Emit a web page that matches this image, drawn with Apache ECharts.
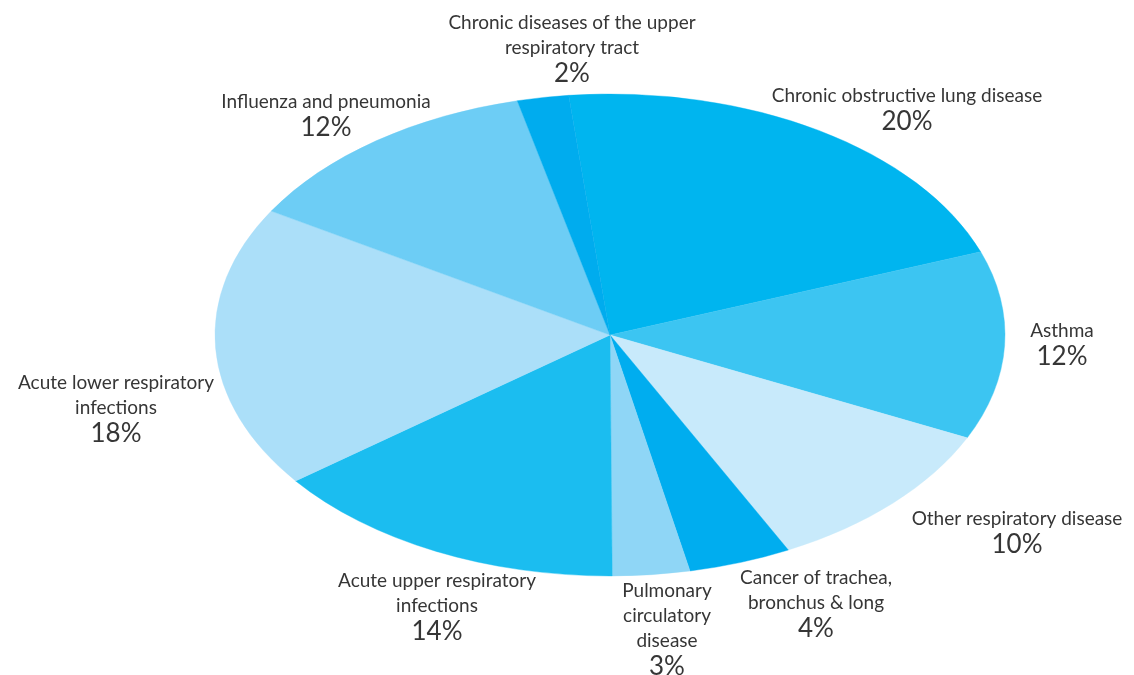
<!DOCTYPE html>
<html>
<head>
<meta charset="utf-8">
<script src="https://cdn.jsdelivr.net/npm/echarts@6/dist/echarts.min.js"></script>
<style>
  html, body { margin: 0; padding: 0; background: #ffffff; }
  #chart { width: 1134px; height: 675px; }
</style>
</head>
<body>
<div id="chart"></div>
<script>
// Causes of respiratory disease, share of total (%)
const categories = [
  'Chronic obstructive lung disease',
  'Asthma',
  'Other respiratory disease',
  'Cancer of trachea,\nbronchus & long',
  'Pulmonary\ncirculatory\ndisease',
  'Acute upper respiratory\ninfections',
  'Acute lower respiratory\ninfections',
  'Influenza and pneumonia',
  'Chronic diseases of the upper\nrespiratory tract'
];
const shares = [20, 12, 10, 4, 3, 14, 18, 12, 2];

const sliceColors = [
  '#00b5ef', '#3cc5f2', '#c8eafb', '#00adef', '#8fd6f6',
  '#1bbdf0', '#abdff9', '#6dcdf5', '#00acee'
];

// Text block anchors: centre x, top y
const labelAnchors = [
  [907, 83], [1062, 318], [1017, 506], [816, 565], [667, 578],
  [437, 568], [116, 370], [326, 89], [572, 10]
];

// Ellipse geometry of the pie
const pieCenter = [610, 335];
const radiusX = 395;
const radiusY = 241;
const startOffsetDeg = -6;

const total = shares.reduce((a, b) => a + b, 0);
const cumulative = [];
shares.reduce((acc, v, i) => { cumulative[i] = acc; return acc + v; }, 0);

const chart = echarts.init(document.getElementById('chart'), null, { renderer: 'canvas' });

function renderSlice(params, api) {
  const i = params.dataIndex;
  const value = api.value(0);
  const base = -Math.PI / 2 + startOffsetDeg * Math.PI / 180;
  const a0 = base + cumulative[i] / total * Math.PI * 2;
  const a1 = a0 + value / total * Math.PI * 2;
  const anchor = labelAnchors[i];
  return {
    type: 'group',
    children: [
      {
        type: 'sector',
        x: pieCenter[0],
        y: pieCenter[1],
        scaleY: radiusY / radiusX,
        shape: { cx: 0, cy: 0, r0: 0, r: radiusX, startAngle: a0, endAngle: a1, clockwise: true },
        style: { fill: sliceColors[i], stroke: sliceColors[i], lineWidth: 0.5 }
      },
      {
        type: 'text',
        x: anchor[0],
        y: anchor[1],
        style: {
          text: '{n|' + categories[i].split('\n').join('}\n{n|') + '}\n{p|' + value + '%}',
          align: 'center',
          verticalAlign: 'top',
          rich: {
            n: { fontFamily: 'Lato', fontSize: 19, lineHeight: 25, fill: '#363636', align: 'center' },
            p: { fontFamily: 'Lato', fontSize: 26, lineHeight: 28, fill: '#363636', align: 'center' }
          }
        }
      }
    ]
  };
}

chart.setOption({
  backgroundColor: '#ffffff',
  animation: false,
  series: [{
    type: 'custom',
    coordinateSystem: 'none',
    renderItem: renderSlice,
    data: shares.map((v, i) => ({ name: categories[i], value: [v] }))
  }]
});
</script>
</body>
</html>
